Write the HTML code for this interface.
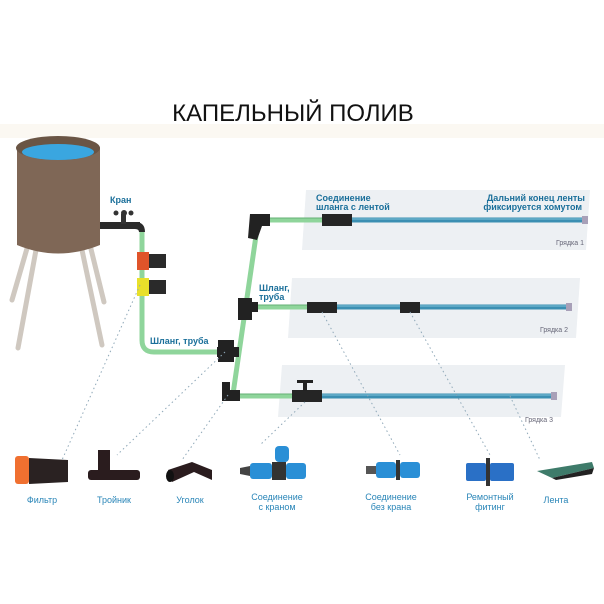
<!DOCTYPE html>
<html><head><meta charset="utf-8"><style>
body{margin:0;background:#fff;}
svg{display:block}
.l{font-family:"Liberation Sans",sans-serif;font-size:9px;fill:#1a6f9a;font-weight:bold}
.s{font-family:"Liberation Sans",sans-serif;font-size:9px;fill:#2a86b8;text-anchor:middle}
.g{font-family:"Liberation Sans",sans-serif;font-size:7px;fill:#667}
</style></head><body>
<svg width="604" height="604" viewBox="0 0 604 604" xmlns="http://www.w3.org/2000/svg">
<rect width="604" height="604" fill="#fff"/>
<rect x="0" y="124" width="604" height="14" fill="#fbf8f2"/>
<text x="293" y="121" font-family="Liberation Sans,sans-serif" font-size="24" text-anchor="middle" fill="#111">КАПЕЛЬНЫЙ  ПОЛИВ</text>
<path d="M306 190 L590 190 L586 250 L302 250 Z" fill="#edf0f3"/>
<path d="M292 278 L580 278 L576 338 L288 338 Z" fill="#edf0f3"/>
<path d="M282 365 L565 365 L561 417 L278 417 Z" fill="#edf0f3"/>
<text x="584" y="245" class="g" text-anchor="end">Грядка 1</text>
<text x="568" y="332" class="g" text-anchor="end">Грядка 2</text>
<text x="553" y="422" class="g" text-anchor="end">Грядка 3</text>
<g stroke="#cfc8c0" stroke-width="5" stroke-linecap="round">
<line x1="28" y1="245" x2="12" y2="300"/><line x1="36" y1="250" x2="18" y2="348"/>
<line x1="82" y1="250" x2="102" y2="345"/><line x1="90" y1="245" x2="104" y2="302"/>
</g>
<path d="M17 148 L100 148 L100 245 Q58 262 17 245 Z" fill="#7f6756"/>
<ellipse cx="58" cy="148" rx="42" ry="12" fill="#6a5545"/>
<ellipse cx="58" cy="152" rx="36" ry="8" fill="#3aa6e0"/>
<rect x="100" y="222" width="40" height="7" fill="#2b2b2b"/>
<circle cx="124" cy="213" r="3" fill="#333"/><circle cx="116" cy="213" r="2.5" fill="#333"/><circle cx="131" cy="213" r="2.5" fill="#333"/>
<rect x="121" y="214" width="5" height="10" fill="#333"/>
<path d="M135 222 Q145 222 145 232 L139 232 Q139 229 135 229 Z" fill="#2b2b2b"/>
<text x="110" y="203" class="l">Кран</text>
<g fill="none" stroke="#8fd59b" stroke-width="5">
<path d="M142 232 L142 340 Q142 352 154 352 L220 352"/>
<path d="M258 222 L233 394"/>
<line x1="260" y1="220" x2="322" y2="220"/>
<line x1="245" y1="307" x2="307" y2="307"/>
<line x1="232" y1="396" x2="292" y2="396"/>
</g>
<g stroke="#4b9a5a" stroke-width="1" fill="none" opacity=".6">
<line x1="260" y1="218" x2="322" y2="218"/><line x1="245" y1="305" x2="307" y2="305"/><line x1="232" y1="394" x2="292" y2="394"/>
</g>
<rect x="137" y="252" width="12" height="18" fill="#e0542a"/><path d="M149 254 L166 254 L166 268 L149 268 Z" fill="#2a2a2a"/>
<rect x="137" y="278" width="12" height="18" fill="#e8e02a"/><path d="M149 280 L166 280 L166 294 L149 294 Z" fill="#2a2a2a"/>
<path d="M250 214 L270 214 L270 226 L262 226 L257 240 L248 238 Z" fill="#222"/>
<rect x="238" y="298" width="14" height="22" fill="#222"/><rect x="246" y="302" width="12" height="10" fill="#222"/>
<rect x="218" y="340" width="16" height="22" fill="#222"/><rect x="217" y="347" width="22" height="10" fill="#222"/>
<path d="M222 382 L230 382 L230 390 L240 390 L240 401 L222 401 Z" fill="#222"/>
<text x="150" y="344" class="l">Шланг, труба</text>
<text x="259" y="291" class="l">Шланг,</text><text x="259" y="300" class="l">труба</text>
<g stroke="#3b8fb2" stroke-width="5">
<line x1="350" y1="220" x2="584" y2="220"/>
<line x1="335" y1="307" x2="568" y2="307"/>
<line x1="320" y1="396" x2="553" y2="396"/>
</g>
<g stroke="#7fc0d8" stroke-width="1"><line x1="350" y1="219" x2="584" y2="219"/><line x1="335" y1="306" x2="568" y2="306"/><line x1="320" y1="395" x2="553" y2="395"/></g>
<rect x="582" y="216" width="6" height="8" fill="#a8a0b8"/>
<rect x="566" y="303" width="6" height="8" fill="#a8a0b8"/>
<rect x="551" y="392" width="6" height="8" fill="#a8a0b8"/>
<rect x="322" y="214" width="30" height="12" fill="#252525"/>
<rect x="307" y="302" width="30" height="11" fill="#252525"/>
<rect x="400" y="302" width="20" height="11" fill="#252525"/>
<rect x="292" y="390" width="30" height="12" fill="#252525"/>
<rect x="303" y="381" width="4" height="10" fill="#222"/><rect x="297" y="380" width="16" height="3" fill="#222"/>
<text x="316" y="201" class="l">Соединение</text><text x="316" y="210" class="l">шланга с лентой</text>
<text x="585" y="201" class="l" text-anchor="end">Дальний конец ленты</text><text x="582" y="210" class="l" text-anchor="end">фиксируется хомутом</text>
<g stroke="#8fa8b8" stroke-width="1" stroke-dasharray="1.5,3" fill="none">
<line x1="140" y1="285" x2="62" y2="460"/>
<line x1="225" y1="352" x2="117" y2="455"/>
<line x1="228" y1="395" x2="182" y2="460"/>
<line x1="305" y1="402" x2="260" y2="445"/>
<line x1="322" y1="312" x2="400" y2="455"/>
<line x1="410" y1="312" x2="490" y2="455"/>
<line x1="510" y1="396" x2="540" y2="460"/>
</g>
<rect x="15" y="456" width="14" height="28" rx="3" fill="#f07030"/>
<path d="M29 458 L68 460 L68 482 L29 484 Z" fill="#2a2222"/>
<rect x="98" y="450" width="12" height="22" fill="#2a1c1e"/>
<rect x="88" y="470" width="52" height="10" rx="3" fill="#2a1c1e"/>
<path d="M168 470 L192 462 L212 470 L212 480 L194 472 L172 482 Z" fill="#2a1c1e"/>
<ellipse cx="170" cy="476" rx="4" ry="6" fill="#111"/>
<path d="M240 468 L250 466 L250 476 L240 474 Z" fill="#444"/>
<rect x="250" y="463" width="22" height="16" rx="3" fill="#2a8fd6"/>
<rect x="272" y="462" width="14" height="18" fill="#333"/>
<rect x="286" y="463" width="20" height="16" rx="3" fill="#2a8fd6"/>
<rect x="275" y="446" width="14" height="16" rx="4" fill="#2a8fd6"/>
<rect x="366" y="466" width="10" height="8" fill="#555"/>
<rect x="376" y="462" width="20" height="16" rx="3" fill="#2a8fd6"/>
<rect x="396" y="460" width="4" height="20" fill="#333"/>
<rect x="400" y="462" width="20" height="16" rx="3" fill="#2a8fd6"/>
<rect x="466" y="463" width="20" height="18" rx="2" fill="#2a70c6"/>
<rect x="486" y="458" width="4" height="28" fill="#333"/>
<rect x="490" y="463" width="24" height="18" rx="2" fill="#2a70c6"/>
<path d="M537 471 L592 462 L594 468 L552 478 Z" fill="#3e7b6a"/>
<path d="M552 478 L594 468 L592 474 L556 480 Z" fill="#222"/>
<text x="42" y="503" class="s">Фильтр</text>
<text x="114" y="503" class="s">Тройник</text>
<text x="190" y="503" class="s">Уголок</text>
<text x="277" y="500" class="s">Соединение</text><text x="277" y="510" class="s">с краном</text>
<text x="391" y="500" class="s">Соединение</text><text x="391" y="510" class="s">без крана</text>
<text x="490" y="500" class="s">Ремонтный</text><text x="490" y="510" class="s">фитинг</text>
<text x="556" y="503" class="s">Лента</text>
</svg>
</body></html>
